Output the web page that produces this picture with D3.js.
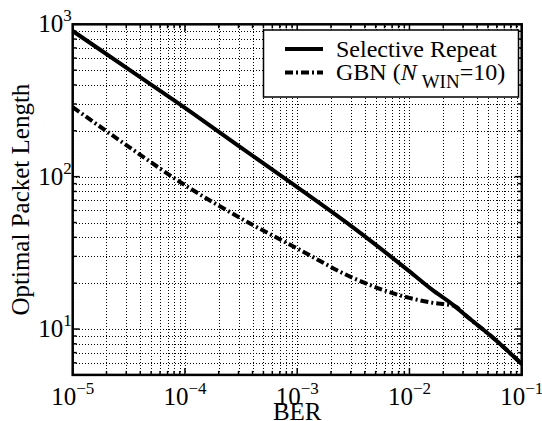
<!DOCTYPE html>
<html>
<head>
<meta charset="utf-8">
<script src="https://cdn.jsdelivr.net/npm/d3@7"></script>
<style>
  body { margin: 0; background: #fff; }
  svg { display: block; font-family: "Liberation Serif", "DejaVu Serif", serif; }
</style>
</head>
<body>
<svg id="chart" width="542" height="421"></svg>
<script>
// Data (BER vs optimal packet length)
const ber = [1e-5, 3.16e-5, 1e-4, 3.16e-4, 1e-3, 3.16e-3, 1e-2, 1.58e-2, 2.51e-2, 3.16e-2, 5.62e-2, 1e-1];
const selectiveRepeat = [904, 506, 283, 155, 85.3, 46.3, 23.9, 18.2, 14.2, 12.3, 8.7, 5.9];
const gbn = [286, 157, 88, 53.2, 33.8, 21.6, 16.0, 14.9, 14.2, 12.3, 8.7, 5.9];

const xMajor = [1e-5, 1e-4, 1e-3, 1e-2, 1e-1];
const xExps = ['\u22125', '\u22124', '\u22123', '\u22122', '\u22121'];
const yMajor = [10, 100, 1000];
const yExps = ['1', '2', '3'];

const svg = d3.select('#chart');

const margin = { left: 72.7, right: 542 - 521.7, top: 24.3, bottom: 421 - 374.9 };
const W = 542, H = 421;

// Scales
const scaleX = d3.scaleLog()
    .domain([1e-5, 1e-1])
    .range([margin.left, W - margin.right]);

const scaleY = d3.scaleLog()
    .domain([5, 1000])
    .range([H - margin.bottom, margin.top]);

// minor ticks (2..9 of each decade)
const xMinor = scaleX.ticks().filter(d => xMajor.indexOf(d) < 0);
const yMinor = scaleY.ticks().filter(d => yMajor.indexOf(d) < 0);

const x0 = scaleX.range()[0], x1 = scaleX.range()[1];
const y0 = scaleY.range()[0], y1 = scaleY.range()[1];
const px = v => Math.round(v) + 0.5;

// Grid (dotted, major + minor)
const grid = svg.append('g')
    .attr('id', 'grid')
    .style('stroke', '#000')
    .style('stroke-width', 1)
    .style('stroke-dasharray', '1,2')
    .style('shape-rendering', 'crispEdges');

grid.selectAll('line.gx')
    .data(xMajor.concat(xMinor))
    .join('line')
    .attr('class', 'gx')
    .attr('x1', d => px(scaleX(d))).attr('x2', d => px(scaleX(d)))
    .attr('y1', y0).attr('y2', y1);

grid.selectAll('line.gy')
    .data(yMajor.concat(yMinor))
    .join('line')
    .attr('class', 'gy')
    .attr('x1', x0).attr('x2', x1)
    .attr('y1', d => px(scaleY(d))).attr('y2', d => px(scaleY(d)));

// Ticks on all four sides, pointing inwards
const ticks = svg.append('g')
    .attr('id', 'ticks')
    .style('stroke', '#000')
    .style('stroke-width', 1.5);

const tickLen = (d, major) => (major.indexOf(d) >= 0 ? 7 : 4);
const allX = xMajor.concat(xMinor);
const allY = yMajor.concat(yMinor);

ticks.selectAll('line.tb')
    .data(allX).join('line').attr('class', 'tb')
    .attr('x1', d => scaleX(d)).attr('x2', d => scaleX(d))
    .attr('y1', y0).attr('y2', d => y0 - tickLen(d, xMajor));
ticks.selectAll('line.tt')
    .data(allX).join('line').attr('class', 'tt')
    .attr('x1', d => scaleX(d)).attr('x2', d => scaleX(d))
    .attr('y1', y1).attr('y2', d => y1 + tickLen(d, xMajor));
ticks.selectAll('line.tl')
    .data(allY).join('line').attr('class', 'tl')
    .attr('y1', d => scaleY(d)).attr('y2', d => scaleY(d))
    .attr('x1', x0).attr('x2', d => x0 + tickLen(d, yMajor));
ticks.selectAll('line.tr')
    .data(allY).join('line').attr('class', 'tr')
    .attr('y1', d => scaleY(d)).attr('y2', d => scaleY(d))
    .attr('x1', x1).attr('x2', d => x1 - tickLen(d, yMajor));

// Lines
const line = d3.line()
    .x((d, i) => scaleX(ber[i]))
    .y(d => scaleY(d))
    .curve(d3.curveMonotoneX);

svg.append('path')
    .datum(gbn)
    .attr('d', line)
    .style('fill', 'none')
    .style('stroke', '#000')
    .style('stroke-width', 4)
    .style('stroke-dasharray', '8,3,2,3');

svg.append('path')
    .datum(selectiveRepeat)
    .attr('d', line)
    .style('fill', 'none')
    .style('stroke', '#000')
    .style('stroke-width', 4);

// Frame
svg.append('rect')
    .attr('x', x0).attr('y', y1)
    .attr('width', x1 - x0).attr('height', y0 - y1)
    .style('fill', 'none')
    .style('stroke', '#000')
    .style('stroke-width', 2.5);

// Tick labels
const xLabels = svg.append('g').attr('id', 'x-labels').style('font-size', '25px');
xLabels.selectAll('text')
    .data(xMajor)
    .join('text')
    .attr('x', d => scaleX(d))
    .attr('y', 405)
    .style('text-anchor', 'middle')
    .each(function (d, i) {
        const t = d3.select(this);
        t.append('tspan').text('10');
        t.append('tspan').attr('dy', -11).style('font-size', '17px').text(xExps[i]);
    });

const yLabels = svg.append('g').attr('id', 'y-labels').style('font-size', '25px');
yLabels.selectAll('text')
    .data(yMajor)
    .join('text')
    .attr('x', x0 - 1)
    .attr('y', d => scaleY(d) + 8)
    .style('text-anchor', 'end')
    .each(function (d, i) {
        const t = d3.select(this);
        t.append('tspan').text('10');
        t.append('tspan').attr('dy', -11).style('font-size', '17px').text(yExps[i]);
    });

// Axis titles
svg.append('text')
    .attr('x', (x0 + x1) / 2)
    .attr('y', 420)
    .style('text-anchor', 'middle')
    .style('font-size', '25px')
    .text('BER');

svg.append('text')
    .attr('transform', `translate(29,${(y0 + y1) / 2}) rotate(-90)`)
    .style('text-anchor', 'middle')
    .style('font-size', '25px')
    .text('Optimal Packet Length');

// Legend
const legend = svg.append('g').attr('id', 'legend');
legend.append('rect')
    .attr('x', 263.5).attr('y', 30)
    .attr('width', 255).attr('height', 67)
    .style('fill', '#fff')
    .style('stroke', '#000')
    .style('stroke-width', 1.5);

legend.append('line')
    .attr('x1', 285).attr('x2', 323)
    .attr('y1', 49).attr('y2', 49)
    .style('stroke', '#000').style('stroke-width', 4);
legend.append('line')
    .attr('x1', 285).attr('x2', 323)
    .attr('y1', 72.5).attr('y2', 72.5)
    .style('stroke', '#000').style('stroke-width', 4)
    .style('stroke-dasharray', '8,3,2,3');

legend.append('text')
    .attr('x', 336).attr('y', 57)
    .style('font-size', '24px')
    .text('Selective Repeat');

const gl = legend.append('text')
    .attr('x', 336).attr('y', 80)
    .style('font-size', '24px');
gl.append('tspan').text('GBN (');
gl.append('tspan').style('font-style', 'italic').text('N');
gl.append('tspan').attr('dx', 5).attr('dy', 8).style('font-size', '19px').text('WIN');
gl.append('tspan').attr('dy', -8).text('=10)');
</script>
</body>
</html>
